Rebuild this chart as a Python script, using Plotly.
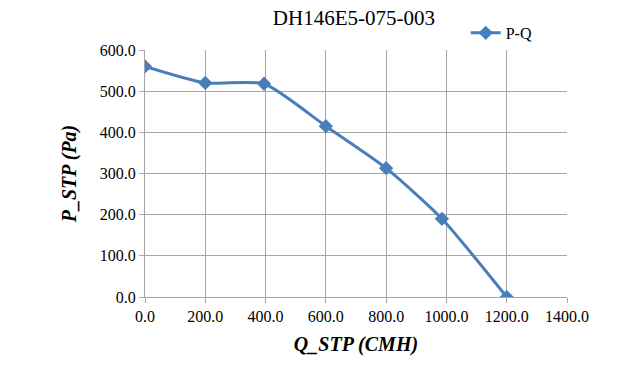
import plotly.graph_objects as go

q_values = [0, 200, 395, 600, 800, 985, 1200]
p_values = [560, 520, 518, 415, 313, 190, 0]
x_ticks = [0, 200, 400, 600, 800, 1000, 1200, 1400]
y_ticks = [0, 100, 200, 300, 400, 500, 600]

color = "#4A7EBB"
serif = "Times New Roman, Liberation Serif, DejaVu Serif, serif"
grid = "#A6A6A6"

fig = go.Figure()
fig.add_trace(go.Scatter(
    x=q_values, y=p_values, mode="lines+markers", name="P-Q",
    line=dict(color=color, width=3, shape="spline", smoothing=0.6),
    marker=dict(symbol="diamond", size=11, color=color),
))

fig.update_layout(
    width=625, height=383,
    margin=dict(l=145, r=58, t=50, b=86, autoexpand=False),
    paper_bgcolor="white", plot_bgcolor="white",
    font=dict(family=serif, size=16, color="black"),
    title=dict(text="DH146E5-075-003", xref="paper", x=0.495, xanchor="center",
               y=0.953, yanchor="middle",
               font=dict(family=serif, size=21, color="black")),
    showlegend=True,
    legend=dict(x=0.76, y=1.069, xanchor="left", yanchor="middle",
                font=dict(family=serif, size=16, color="black"),
                bgcolor="rgba(0,0,0,0)", itemwidth=30),
    xaxis=dict(
        range=[0, 1400], tickvals=x_ticks, ticktext=[f"{v:.1f}" for v in x_ticks],
        showgrid=True, gridcolor=grid, gridwidth=1,
        showline=True, linecolor=grid, linewidth=1,
        ticks="outside", ticklen=5, tickcolor=grid,
        zeroline=False,
        tickfont=dict(family=serif, size=16, color="black"),
        title=dict(text="<b><i>Q_STP (CMH)</i></b>", standoff=12,
                   font=dict(family=serif, size=20, color="black")),
    ),
    yaxis=dict(
        range=[0, 600], tickvals=y_ticks, ticktext=[f"{v:.1f}" for v in y_ticks],
        showgrid=True, gridcolor=grid, gridwidth=1,
        showline=True, linecolor=grid, linewidth=1,
        ticks="outside", ticklen=5, tickcolor=grid,
        zeroline=False,
        tickfont=dict(family=serif, size=16, color="black"),
        title=dict(text="<b><i>P_STP (Pa)</i></b>", standoff=17,
                   font=dict(family=serif, size=20, color="black")),
    ),
)
fig.write_html("out.html", config={"displayModeBar": False},
               post_script="document.body.style.margin='0';")
